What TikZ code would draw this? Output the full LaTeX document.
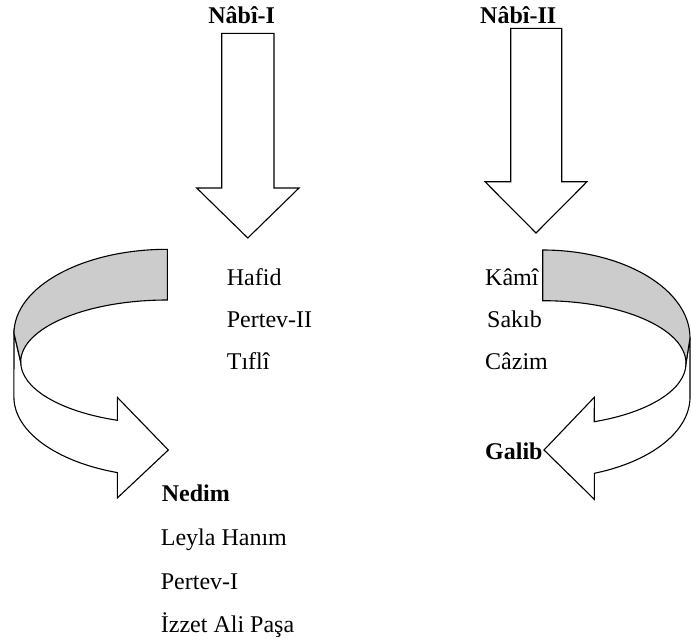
\documentclass[tikz,border=0pt]{standalone}
\usepackage{fontspec}
\setmainfont{Liberation Serif}
\usepackage{tikz}
\usetikzlibrary{calc}

\tikzset{
	block/.style={draw, line width=1.1pt, line join=miter, fill=white},
	back/.style={block, fill=black!20},
	poet/.style={font=\fontsize{24}{28}\selectfont, inner sep=0pt, anchor=base west},
	lead/.style={poet, font=\fontsize{24}{28}\selectfont\bfseries}
}

\begin{document}
\begin{tikzpicture}[x=1pt, y=1pt]
	\useasboundingbox (0,0) rectangle (691,-640);
	% straight arrows
	\draw[block] (221.7,-33.3) -- (274,-33.3) -- (274,-188) -- (299,-188) -- (247.8,-238) -- (196.7,-188) -- (221.7,-188) -- cycle;
	\draw[block] (510.7,-28.3) -- (561.7,-28.3) -- (561.7,-181.7) -- (587,-181.7) -- (536,-233) -- (485,-181.7) -- (510.7,-181.7) -- cycle;
	% left turning arrow
	\draw[block] (20.7,-362) arc[start angle=180, end angle=250.06, x radius=146.6, y radius=62] -- (117.3,-397.3) -- (168.3,-450) -- (117.3,-498) -- (117.3,-472.6) arc[start angle=251, end angle=180, x radius=153.3, y radius=80] -- (14,-333.3) -- cycle;
	\draw[back] (167.3,-249.3) arc[start angle=90, end angle=180, x radius=153.3, y radius=84] -- (20.7,-362) arc[start angle=180, end angle=90, x radius=146.6, y radius=62] -- cycle;
	% right turning arrow
	\draw[block] (686,-363.3) arc[start angle=0, end angle=-68.9, x radius=143.3, y radius=62.6] -- (594.3,-397.3) -- (544,-450) -- (594.3,-499.3) -- (594.3,-473.3) arc[start angle=-69.5, end angle=0, x radius=147.3, y radius=81.4] -- (690,-338) -- cycle;
	\draw[back] (542.7,-250) arc[start angle=90, end angle=0, x radius=147.3, y radius=88] -- (686,-363.3) arc[start angle=0, end angle=90, x radius=143.3, y radius=62.6] -- cycle;
	% poets
	\node[lead, anchor=base] (nabi1) at (241.7,-23) {Nâbî-I};
	\node[lead] (nabi2) at (480,-23) {Nâbî-II};
	\node[poet] (hafid) at (226.7,-285) {Hafid};
	\node[poet] (pertev2) at (226.7,-327) {Pertev-II};
	\node[poet] (tifli) at (226.7,-369) {Tıflî};
	\node[poet] (kami) at (485,-285) {Kâmî};
	\node[poet] (sakib) at (487,-327) {Sakıb};
	\node[poet] (cazim) at (485,-369) {Câzim};
	\node[lead] (galib) at (485,-459) {Galib};
	\node[lead] (nedim) at (161.7,-501) {Nedim};
	\node[poet] (leyla) at (160.7,-545) {Leyla Hanım};
	\node[poet] (pertev1) at (160.7,-589) {Pertev-I};
	\node[poet] (izzet) at (160.7,-632.7) {İzzet Ali Paşa};
\end{tikzpicture}
\end{document}
